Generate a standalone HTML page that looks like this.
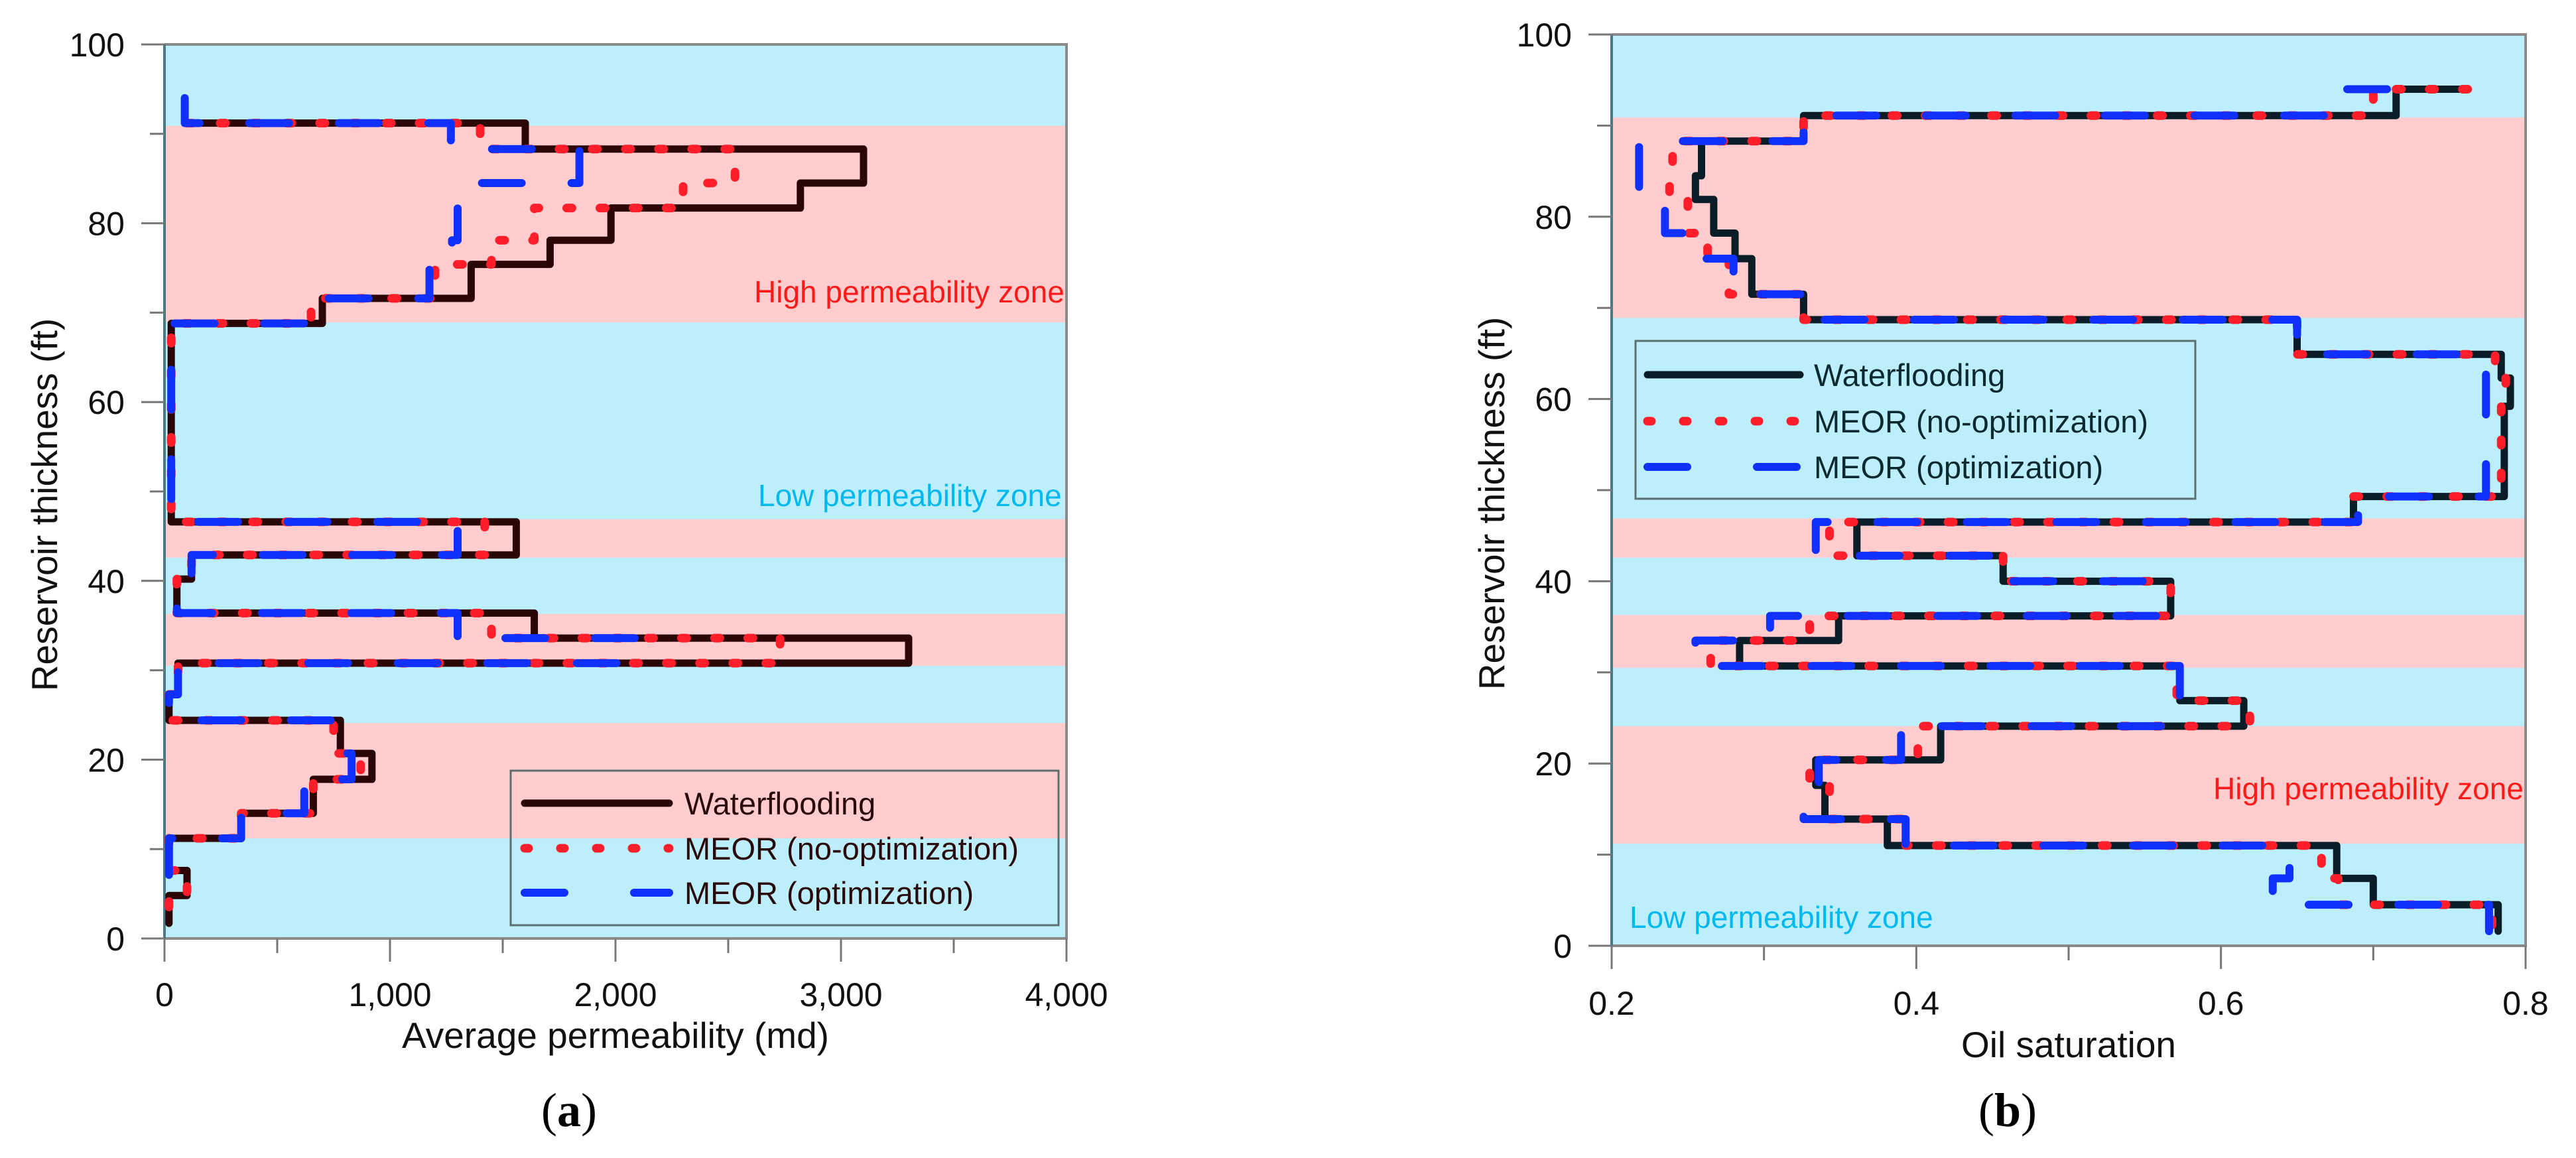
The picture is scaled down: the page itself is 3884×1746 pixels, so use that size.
<!DOCTYPE html>
<html><head><meta charset="utf-8">
<style>
html,body{margin:0;padding:0;background:#fff;}
svg{display:block;}
text{font-family:"Liberation Sans",sans-serif;}
</style></head>
<body>
<svg id="fig" width="3884" height="1746" viewBox="0 0 3884 1746" xmlns="http://www.w3.org/2000/svg"></svg>
<script>
// ---- shared data ----
const bandTops = [90.9, 46.9, 36.3, 24.1];
const bandBottoms = [68.9, 42.6, 30.5, 11.2];

// ---- panel (a): average permeability ----
const aLevels = [94, 91.2, 88.3, 84.5, 81.7, 78.1, 75.4, 71.6, 68.8, 46.6, 42.9, 40.2, 36.4, 33.6, 30.8, 27.3, 24.4, 20.7, 17.8, 14.0, 11.2, 7.6, 4.8, 1.7];
const aWater = [null, 1600, 3100, 2820, 1980, 1710, 1360, 700, 30, 1560, 120, 55, 1640, 3300, 60, 20, 780, 920, 660, 340, 20, 100, 20];
const aNoOpt = [null, 1400, 2530, 2300, 1640, 1450, 1200, 650, 30, 1420, 120, 55, 1450, 2730, 60, 20, 750, 870, 660, 340, 20, 100, 20];
const aOpt = [90, 1270, 1840, 1380, 1300, 1275, 1175, 640, 30, 1300, 120, 55, 1300, 2100, 60, 20, 750, 830, 620, 340, 20, 20, 20];
const aStart = [100, 100, 90];
const aXTicks = [0, 1000, 2000, 3000, 4000];
const aXTickLabels = ["0", "1,000", "2,000", "3,000", "4,000"];

// ---- panel (b): oil saturation ----
const bLevels = [94, 91.1, 88.3, 84.5, 81.9, 78.2, 75.4, 71.5, 68.7, 64.9, 62.3, 59.2, 49.3, 46.5, 42.8, 40.0, 36.2, 33.5, 30.7, 26.9, 24.1, 20.4, 17.6, 13.9, 11.0, 7.4, 4.5, 1.6];
const bWater = [0.715, 0.326, 0.259, 0.255, 0.267, 0.281, 0.292, 0.326, 0.65, 0.784, 0.79, 0.786, 0.687, 0.361, 0.457, 0.567, 0.349, 0.284, 0.573, 0.615, 0.416, 0.334, 0.34, 0.381, 0.676, 0.70, 0.782];
const bNoOpt = [0.70, 0.326, 0.24, 0.238, 0.25, 0.263, 0.277, 0.326, 0.65, 0.78, 0.787, 0.784, 0.687, 0.343, 0.457, 0.567, 0.33, 0.265, 0.571, 0.619, 0.401, 0.33, 0.343, 0.393, 0.666, 0.677, 0.778];
const bOpt = [0.67, 0.326, 0.218, 0.218, 0.235, 0.257, 0.28, 0.326, 0.65, 0.774, 0.774, 0.774, 0.69, 0.334, 0.457, 0.558, 0.304, 0.255, 0.573, 0.562, 0.39, 0.336, 0.326, 0.393, 0.645, 0.634, 0.776];
const bStart = [0.762, 0.762, 0.709];
const bXTicks = [0.2, 0.4, 0.6, 0.8];
const bXTickLabels = ["0.2", "0.4", "0.6", "0.8"];

const yTicks = [0, 20, 40, 60, 80, 100];
const yTickLabels = ["0", "20", "40", "60", "80", "100"];
const yMinor = [10, 30, 50, 70, 90];

const NS = "http://www.w3.org/2000/svg";
const svg = document.getElementById("fig");
function mk(tag, attrs, parent) {
  const e = document.createElementNS(NS, tag);
  for (const k in attrs) e.setAttribute(k, attrs[k]);
  (parent || svg).appendChild(e);
  return e;
}

function panel(cfg) {
  const g = mk("g", {});
  
  
  const X = v => cfg.x0 + (v - cfg.xmin) / (cfg.xmax - cfg.xmin) * (cfg.x1 - cfg.x0);
  const Y = v => cfg.y1 - v / 100 * (cfg.y1 - cfg.y0);
  const bg = mk("rect", {x: cfg.x0, y: cfg.y0, width: cfg.x1 - cfg.x0, height: cfg.y1 - cfg.y0, fill: "#bdeefb"}, g);
  
  
  for (let i = 0; i < bandTops.length; i++) {
    const r = mk("rect", {x: cfg.x0, y: Y(bandTops[i]), width: cfg.x1 - cfg.x0, height: Y(bandBottoms[i]) - Y(bandTops[i]), fill: "#ffcdcd"}, g);
    
    
  }
  const fr = mk("path", {d: `M${cfg.x0},${cfg.y0} H${cfg.x1} V${cfg.y1} H${cfg.x0}`, fill: "none", stroke: "#8a8a8a", "stroke-width": 4}, g);
  
  
  const yax = mk("line", {x1: cfg.x0, y1: cfg.y0, x2: cfg.x0, y2: cfg.y1, stroke: "#4a7a85", "stroke-width": 4}, g);
  
  
  yTicks.forEach((t, i) => {
    const l = mk("line", {x1: cfg.x0 - 35, y1: Y(t), x2: cfg.x0, y2: Y(t), stroke: "#777", "stroke-width": 3}, g);
    
    
    const tx = mk("text", {x: cfg.x0 - 60, y: Y(t) + 18, "text-anchor": "end", "font-size": 50, fill: "#111"}, g);
    tx.textContent = yTickLabels[i];
    
    
  });
  yMinor.forEach(t => {
    const l = mk("line", {x1: cfg.x0 - 22, y1: Y(t), x2: cfg.x0, y2: Y(t), stroke: "#777", "stroke-width": 3}, g);
    
    
  });
  cfg.xTicks.forEach((t, i) => {
    const l = mk("line", {x1: X(t), y1: cfg.y1, x2: X(t), y2: cfg.y1 + 35, stroke: "#777", "stroke-width": 3}, g);
    
    
    const tx = mk("text", {x: X(t), y: cfg.tickLabelY, "text-anchor": "middle", "font-size": 50, fill: "#111"}, g);
    tx.textContent = cfg.xTickLabels[i];
    
    
  });
  for (let i = 0; i < cfg.xTicks.length - 1; i++) {
    const m = (cfg.xTicks[i] + cfg.xTicks[i + 1]) / 2;
    const l = mk("line", {x1: X(m), y1: cfg.y1, x2: X(m), y2: cfg.y1 + 22, stroke: "#777", "stroke-width": 3}, g);
    
    
  }
  const hz = mk("text", {x: cfg.highX, y: cfg.highY, "font-size": 46, fill: "#ff1a1a"}, g);
  hz.textContent = "High permeability zone";
  
  
  const lz = mk("text", {x: cfg.lowX, y: cfg.lowY, "font-size": 46, fill: "#00b8f0"}, g);
  lz.textContent = "Low permeability zone";
  
  
  const styles = [
    {stroke: cfg.blackColor, w: 11, dash: null, name: "waterflooding-line"},
    {stroke: "#ff1e2a", w: 13, dash: "8 42", name: "meor-no-optimization-line"},
    {stroke: "#1030ff", w: 12, dash: "60 75", name: "meor-optimization-line"}
  ];
  cfg.series.forEach((vals, si) => {
    let k = 0;
    while (vals[k] === null) k++;
    let d = `M${X(cfg.start[si])},${Y(cfg.levels[k])}`;
    for (let i = k; i < vals.length; i++) {
      d += ` H${X(vals[i])} V${Y(cfg.levels[i + 1])}`;
    }
    const st = styles[si];
    const p = mk("path", {d: d, fill: "none", stroke: st.stroke, "stroke-width": st.w, "stroke-linecap": "round", "stroke-linejoin": "round"}, g);
    if (st.dash) p.setAttribute("stroke-dasharray", st.dash);
    
    
  });
  const lg = mk("g", {}, g);
  
  
  const L = cfg.legend;
  mk("rect", {x: L.x, y: L.y, width: L.w, height: L.h, fill: "none", stroke: "#5c6f70", "stroke-width": 3}, lg);
  const names = ["Waterflooding", "MEOR (no-optimization)", "MEOR (optimization)"];
  names.forEach((n, i) => {
    const ry = L.rows[i];
    const st = styles[i];
    const ln = mk("line", {x1: L.lx0, y1: ry, x2: L.lx1, y2: ry, stroke: st.stroke, "stroke-width": st.w, "stroke-linecap": "round"}, lg);
    if (i === 1) ln.setAttribute("stroke-dasharray", "6 48");
    if (i === 2) ln.setAttribute("stroke-dasharray", "60 105");
    
    
    const t = mk("text", {x: L.tx, y: ry + 17, "font-size": 47, fill: cfg.legendTextColor}, lg);
    t.textContent = n;
    
    
  });
  const yt = mk("text", {x: 0, y: 0, "font-size": 55, fill: "#111", "text-anchor": "middle", transform: `translate(${cfg.yTitleX},${(cfg.y0 + cfg.y1) / 2 + 20}) rotate(-90)`}, g);
  yt.textContent = "Reservoir thickness (ft)";
  
  
  const xt = mk("text", {x: (cfg.x0 + cfg.x1) / 2, y: cfg.xTitleY, "font-size": 55, fill: "#111", "text-anchor": "middle"}, g);
  xt.textContent = cfg.xTitle;
  
  
  const cap = mk("text", {x: cfg.capX, y: 1698, "font-size": 72, fill: "#000", "text-anchor": "middle", style: "font-family:'Liberation Serif',serif"}, g);
  cap.innerHTML = `(<tspan font-weight="bold">${cfg.cap}</tspan>)`;
  
  
}

panel({
  name: "panel-a-permeability", x0: 248, x1: 1608, y0: 67, y1: 1415, xmin: 0, xmax: 4000,
  xTicks: aXTicks, xTickLabels: aXTickLabels, tickLabelY: 1517,
  levels: aLevels, series: [aWater, aNoOpt, aOpt], start: aStart, blackColor: "#2a0606",
  highX: 1137, highY: 456, lowX: 1143, lowY: 763,
  legend: {x: 770, y: 1162, w: 826, h: 233, rows: [1211, 1279, 1346], lx0: 791, lx1: 1009, tx: 1032},
  legendTextColor: "#2a0a0a",
  yTitleX: 86, xTitle: "Average permeability (md)", xTitleY: 1580, cap: "a", capX: 858
});
panel({
  name: "panel-b-oil-saturation", x0: 2430, x1: 3808, y0: 52, y1: 1426, xmin: 0.2, xmax: 0.8,
  xTicks: bXTicks, xTickLabels: bXTickLabels, tickLabelY: 1530,
  levels: bLevels, series: [bWater, bNoOpt, bOpt], start: bStart, blackColor: "#0a1c26",
  highX: 3337, highY: 1205, lowX: 2457, lowY: 1399,
  legend: {x: 2466, y: 514, w: 844, h: 238, rows: [565, 635, 704], lx0: 2484, lx1: 2714, tx: 2735},
  legendTextColor: "#0a2a30",
  yTitleX: 2268, xTitle: "Oil saturation", xTitleY: 1594, cap: "b", capX: 3027
});
</script>
</body></html>
